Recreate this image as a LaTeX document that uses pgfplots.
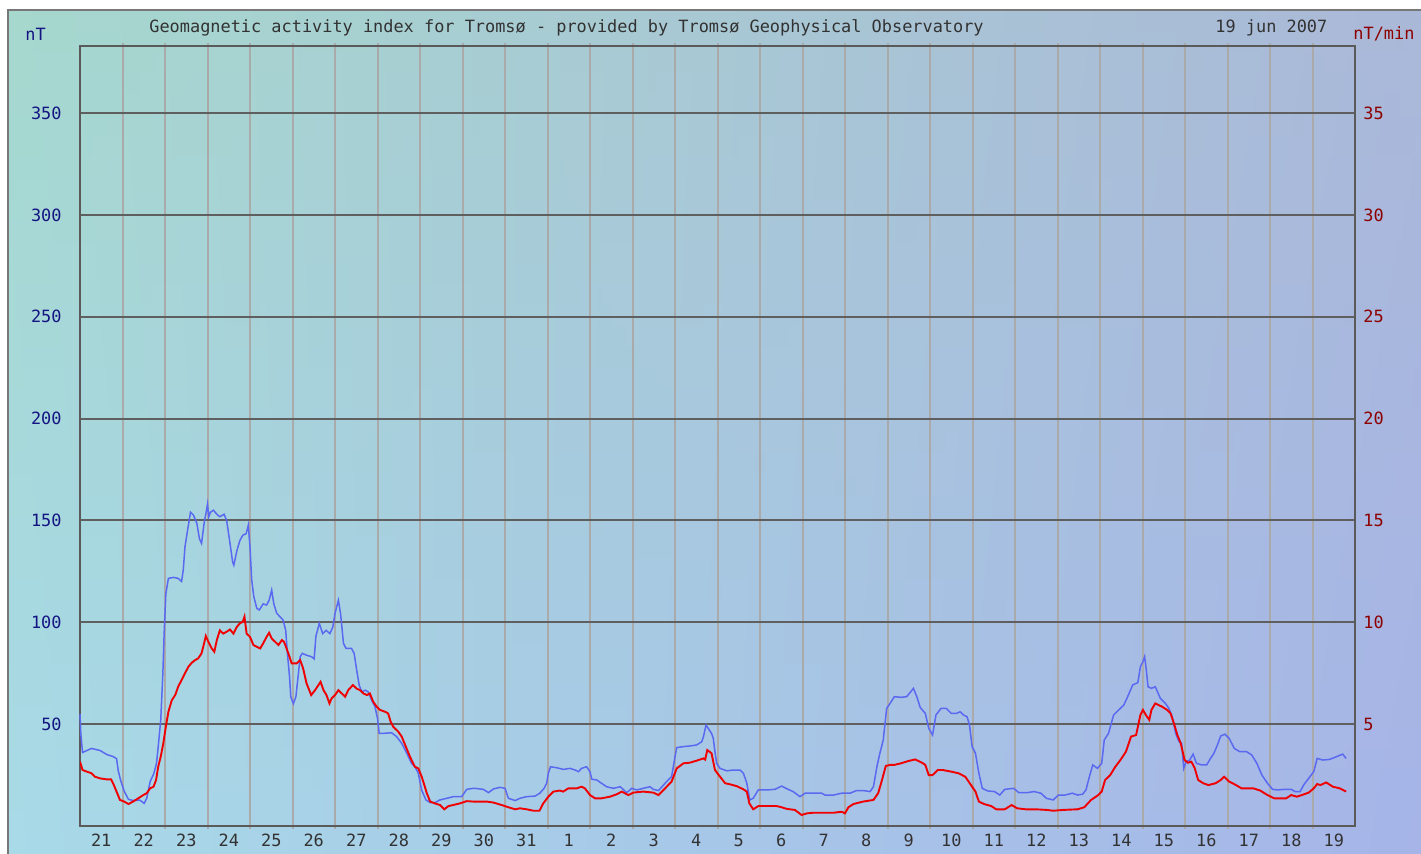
\documentclass[border=0pt]{standalone}
\usepackage{fontspec}
\setmainfont{DejaVu Sans Mono}
\usepackage{pgfplots}
\pgfplotsset{compat=1.18}
\usepackage{pgfplotstable}

\definecolor{bgTL}{RGB}{166,216,206}
\definecolor{bgBL}{RGB}{168,218,232}
\definecolor{bgTR}{RGB}{170,184,216}
\definecolor{bgBR}{RGB}{166,180,232}
\definecolor{hgrid}{RGB}{95,95,95}
\definecolor{vgrid}{RGB}{170,170,170}
\definecolor{axgray}{RGB}{90,90,90}
\definecolor{nTblue}{RGB}{20,20,130}
\definecolor{nTred}{RGB}{140,0,0}
\definecolor{txtgray}{RGB}{50,50,50}
\definecolor{lineblue}{RGB}{90,105,240}
\definecolor{linered}{RGB}{240,0,0}
\definecolor{framegray}{RGB}{120,120,120}

\newcommand\lblfont{\fontsize{8.45}{10}\selectfont}

% blue: geomagnetic activity index, nT (x = days since 21 May 00 UT)
\pgfplotstableread{
t v
0.00 55
0.02 45
0.06 36
0.27 38
0.47 37
0.63 35
0.78 34
0.86 33
0.90 27
0.96 22
1.04 17
1.14 13
1.25 12.4
1.41 12.6
1.51 11
1.57 13.5
1.65 21.7
1.74 25.8
1.80 30.7
1.84 38.8
1.90 52
1.95 75
1.98 94.5
2.02 114
2.08 121.5
2.20 122
2.31 121.5
2.39 120
2.43 125.6
2.47 137
2.53 145
2.60 154
2.67 152.6
2.75 148.5
2.81 141
2.86 138.7
2.92 148.5
2.96 153
3.00 158
3.03 151.8
3.07 154
3.14 155
3.22 153
3.29 151.8
3.39 153
3.45 150
3.53 138.7
3.59 129.7
3.62 128
3.69 135
3.76 140
3.83 142.7
3.91 143.5
3.96 147.6
4.00 137
4.04 120.7
4.09 112.5
4.16 106.8
4.22 106
4.31 109
4.39 108.4
4.45 110.8
4.51 115.8
4.56 109
4.63 104.3
4.71 102.6
4.78 101
4.84 96
4.88 84.7
4.93 73.2
4.96 63.4
5.02 60
5.08 63.4
5.14 75
5.18 83
5.23 84.7
5.33 83.8
5.45 83
5.51 82
5.55 93
5.63 99.4
5.71 94.4
5.79 96
5.88 94.4
5.95 97.7
6.00 104.3
6.08 110.8
6.13 104.3
6.20 89.6
6.26 87.1
6.39 87.1
6.45 84.7
6.51 76.5
6.57 69
6.63 65.8
6.71 66.6
6.78 65.8
6.86 61.8
6.94 58.5
7.00 52.8
7.04 45.4
7.14 45.4
7.33 45.7
7.45 43.8
7.57 40.5
7.69 35.6
7.80 30.7
7.88 29
7.96 25.8
8.04 17.5
8.14 12.7
8.24 11.4
8.35 11.4
8.47 12.7
8.63 13.5
8.78 14.3
8.98 14.3
9.10 17.9
9.25 18.4
9.29 18.4
9.49 17.9
9.61 16.3
9.73 18.1
9.88 18.9
10.00 18.4
10.08 13.5
10.24 12.4
10.35 13.5
10.51 14.3
10.71 14.6
10.82 16
10.92 18.4
10.98 20.9
11.02 25.8
11.07 29
11.22 28.5
11.37 27.7
11.53 28.2
11.65 27.4
11.73 26.6
11.80 28.2
11.92 29
12.00 26.6
12.04 22.9
12.16 22.5
12.27 20.9
12.39 19.2
12.55 18.4
12.71 19.2
12.78 17.9
12.86 16.3
12.94 17.6
12.98 18.4
13.10 17.6
13.25 18.4
13.41 19.2
13.49 17.9
13.61 17.3
13.73 20
13.80 21.7
13.92 24.1
14.00 33.9
14.04 38.4
14.20 38.9
14.35 39.2
14.51 39.7
14.63 41.3
14.67 43.8
14.73 49.5
14.78 47.9
14.86 45.4
14.90 43
14.94 36.4
14.98 30.7
15.06 28.2
15.22 27
15.37 27.4
15.53 27.4
15.61 25.8
15.69 20.9
15.76 12.7
15.84 13.5
15.96 17.6
16.16 17.6
16.35 17.9
16.51 19.5
16.63 18.2
16.78 16.8
16.94 14.3
17.06 16
17.25 16
17.45 16
17.53 15.1
17.73 15.1
17.92 16
18.12 16
18.27 17.3
18.43 17.3
18.59 16.8
18.67 19.2
18.75 29
18.82 35.6
18.90 42.1
18.98 57.7
19.06 60.1
19.16 63.4
19.32 63.1
19.45 63.4
19.53 65.4
19.61 67.5
19.69 63.4
19.77 58.1
19.89 55.2
19.97 47.9
20.06 44.6
20.14 54.4
20.26 57.7
20.38 57.7
20.50 55.2
20.62 55.2
20.71 56
20.79 54.4
20.87 53.6
20.93 49.5
20.99 38.9
21.07 35.6
21.15 25.8
21.23 18.4
21.36 17.1
21.52 16.8
21.64 15.1
21.76 17.9
21.97 18.4
22.09 16.3
22.29 16.3
22.45 16.8
22.61 16
22.74 13.5
22.90 12.7
23.02 15.1
23.18 15.1
23.35 16
23.47 15.1
23.59 15.5
23.67 17.6
23.75 24.1
23.83 29.9
23.94 28.2
24.04 30.7
24.10 42.1
24.20 45.4
24.32 54.4
24.44 56.9
24.56 59.3
24.65 63.4
24.77 69.2
24.89 70.3
24.95 78.1
25.01 80.6
25.05 83.1
25.09 76.5
25.13 68.3
25.21 67.5
25.30 68.3
25.42 62.6
25.54 60.1
25.62 57.7
25.70 53.6
25.78 45.4
25.86 41.3
25.92 40.5
25.97 28.2
26.03 31.5
26.11 32.3
26.19 35.2
26.27 30.7
26.39 29.9
26.51 29.9
26.60 33.1
26.68 35.6
26.76 39.5
26.84 44.1
26.94 45
27.04 42.9
27.16 38
27.29 36.4
27.45 36.4
27.57 34.8
27.69 30.7
27.81 24.9
27.94 20.9
28.06 17.9
28.18 17.6
28.34 17.9
28.50 17.9
28.59 16.8
28.71 16.8
28.79 20
28.91 23.3
29.03 26.6
29.11 33.1
29.24 32.3
29.40 32.6
29.56 33.9
29.71 35.2
29.79 33.1
}\bluedata

% red: rate of change, nT/min
\pgfplotstableread{
t v
0.00 3.15
0.06 2.74
0.16 2.66
0.27 2.58
0.35 2.41
0.47 2.33
0.63 2.28
0.73 2.28
0.78 2.08
0.86 1.68
0.94 1.27
1.04 1.19
1.14 1.07
1.25 1.19
1.37 1.35
1.49 1.51
1.57 1.60
1.65 1.84
1.73 1.92
1.79 2.25
1.84 2.90
1.90 3.40
1.96 4.05
2.02 4.87
2.08 5.60
2.16 6.17
2.24 6.42
2.31 6.83
2.39 7.16
2.47 7.49
2.55 7.81
2.63 8.01
2.71 8.14
2.78 8.22
2.86 8.47
2.92 8.96
2.96 9.32
3.02 9.04
3.10 8.71
3.16 8.55
3.22 9.12
3.29 9.60
3.37 9.44
3.45 9.53
3.53 9.64
3.61 9.44
3.69 9.77
3.76 9.94
3.83 10.02
3.87 10.27
3.92 9.44
4.00 9.28
4.08 8.88
4.16 8.79
4.24 8.71
4.31 8.96
4.39 9.28
4.45 9.48
4.51 9.20
4.59 9.04
4.67 8.88
4.75 9.12
4.80 9.04
4.86 8.71
4.93 8.30
4.98 7.98
5.10 7.98
5.18 8.14
5.25 7.73
5.33 7.00
5.44 6.42
5.53 6.66
5.61 6.91
5.66 7.07
5.73 6.66
5.80 6.42
5.87 6.01
5.92 6.26
6.00 6.42
6.08 6.66
6.16 6.50
6.24 6.34
6.31 6.66
6.42 6.91
6.51 6.74
6.59 6.66
6.67 6.50
6.75 6.42
6.82 6.50
6.90 6.09
6.98 5.85
7.06 5.69
7.18 5.60
7.25 5.52
7.31 5.11
7.37 4.87
7.49 4.62
7.57 4.38
7.65 3.97
7.73 3.56
7.80 3.23
7.88 2.90
7.96 2.82
8.04 2.41
8.09 2.08
8.16 1.60
8.24 1.19
8.35 1.10
8.47 1.02
8.57 0.81
8.67 0.97
8.78 1.02
8.94 1.10
9.10 1.21
9.25 1.19
9.57 1.19
9.73 1.14
9.92 1.02
10.08 0.91
10.24 0.81
10.35 0.86
10.51 0.81
10.67 0.74
10.81 0.74
10.90 1.10
11.02 1.43
11.14 1.68
11.29 1.73
11.37 1.68
11.49 1.84
11.69 1.84
11.80 1.92
11.88 1.84
12.00 1.51
12.12 1.35
12.27 1.35
12.47 1.43
12.63 1.55
12.75 1.68
12.90 1.51
13.02 1.63
13.25 1.68
13.49 1.63
13.61 1.51
13.73 1.76
13.92 2.17
14.04 2.82
14.20 3.07
14.35 3.10
14.51 3.20
14.67 3.31
14.71 3.25
14.76 3.72
14.86 3.56
14.94 2.74
15.06 2.41
15.18 2.09
15.29 2.04
15.45 1.95
15.61 1.79
15.69 1.68
15.75 1.10
15.84 0.81
15.96 0.97
16.16 0.97
16.39 0.97
16.51 0.91
16.63 0.83
16.82 0.78
16.98 0.53
17.10 0.61
17.25 0.64
17.49 0.64
17.73 0.64
17.92 0.69
18.00 0.61
18.08 0.91
18.20 1.07
18.43 1.19
18.67 1.27
18.78 1.60
18.86 2.17
18.96 2.94
19.06 2.99
19.16 2.99
19.32 3.07
19.49 3.18
19.65 3.26
19.81 3.10
19.89 2.99
19.97 2.49
20.06 2.49
20.18 2.74
20.30 2.74
20.50 2.66
20.67 2.58
20.83 2.41
20.91 2.17
20.99 1.92
21.07 1.68
21.15 1.19
21.27 1.07
21.44 0.97
21.56 0.81
21.76 0.81
21.92 1.02
22.05 0.86
22.25 0.81
22.49 0.81
22.74 0.78
22.90 0.74
23.14 0.78
23.47 0.81
23.63 0.91
23.79 1.27
23.96 1.51
24.04 1.68
24.12 2.25
24.24 2.49
24.36 2.90
24.48 3.23
24.61 3.64
24.73 4.38
24.85 4.46
24.95 5.44
25.01 5.69
25.08 5.44
25.16 5.20
25.21 5.69
25.30 6.01
25.38 5.93
25.46 5.85
25.58 5.69
25.66 5.52
25.74 5.03
25.82 4.46
25.90 4.05
25.99 3.23
26.07 3.10
26.15 3.15
26.23 2.82
26.31 2.25
26.43 2.09
26.55 2.00
26.72 2.09
26.84 2.25
26.92 2.41
27.04 2.17
27.20 2.00
27.33 1.84
27.45 1.84
27.61 1.84
27.77 1.73
27.94 1.51
28.10 1.35
28.38 1.35
28.50 1.51
28.63 1.43
28.75 1.51
28.91 1.63
29.03 1.84
29.11 2.05
29.19 2.00
29.32 2.13
29.48 1.92
29.64 1.84
29.79 1.68
}\reddata

\begin{document}
\begin{tikzpicture}
\useasboundingbox (0,0) rectangle (710.5pt,-427pt);
% panel background (gradient)
\foreach \i in {0,...,39}{
  \pgfmathtruncatemacro\p{round((\i+0.5)*2.5)}
  \pgfmathsetmacro\ya{-5-10.55*\i}
  \pgfmathsetmacro\yb{-5-10.55*(\i+1)-0.4}
  \shade[left color=bgBL!\p!bgTL, right color=bgBR!\p!bgTR] (4pt,\ya pt) rectangle (712pt,\yb pt);
}
\draw[framegray, line width=0.8pt] (4pt,-432pt) -- (4pt,-5pt) -- (715pt,-5pt);

\begin{axis}[
  at={(40pt,-412.9pt)}, anchor=south west,
  scale only axis, width=637.5pt, height=389.9pt,
  xmin=0, xmax=30, ymin=0, ymax=383,
  axis line style={draw=axgray, line width=1pt},
  xtick={0.5,1.5,...,29.5},
  xticklabels={21,22,23,24,25,26,27,28,29,30,31,1,2,3,4,5,6,7,8,9,10,11,12,13,14,15,16,17,18,19},
  minor xtick={1,2,...,29},
  xminorgrids,
  minor x grid style={draw=vgrid, line width=1pt},
  ytick={50,100,...,350},
  ymajorgrids,
  major y grid style={draw=hgrid, line width=1pt},
  major tick length=0pt,
  minor tick length=1.6pt,
  tick align=outside,
  minor tick style={draw=vgrid, line width=1pt},
  ytick pos=left,
  /pgf/number format/assume math mode=true,
  tick label style={font=\lblfont},
  yticklabel style={text=nTblue, anchor=east, inner sep=0pt, xshift=-9pt},
  xticklabel style={text=txtgray, anchor=north, inner sep=0pt, yshift=-4pt},
  clip=false,
]
\addplot[lineblue, line width=0.75pt] table[x=t, y=v] {\bluedata};
\end{axis}

\begin{axis}[
  at={(40pt,-412.9pt)}, anchor=south west,
  scale only axis, width=637.5pt, height=389.9pt,
  xmin=0, xmax=30, ymin=0, ymax=38.3,
  hide x axis,
  axis y line*=right,
  y axis line style={draw=none},
  ytick={5,10,...,35},
  major tick length=0pt,
  /pgf/number format/assume math mode=true,
  tick label style={font=\lblfont},
  yticklabel style={text=nTred, anchor=west, inner sep=0pt, xshift=4pt},
]
\addplot[linered, line width=0.95pt] table[x=t, y=v] {\reddata};
\end{axis}

\node[anchor=base west, inner sep=0pt, text=nTblue, font=\lblfont] at (12.5pt,-20.5pt) {nT};
\node[anchor=base west, inner sep=0pt, text=txtgray, font=\lblfont] at (74.5pt,-16.5pt) {Geomagnetic activity index for Tromsø - provided by Tromsø Geophysical Observatory};
\node[anchor=base west, inner sep=0pt, text=txtgray, font=\lblfont] at (607.5pt,-16.5pt) {19 jun 2007};
\node[anchor=base west, inner sep=0pt, text=nTred, font=\lblfont] at (676.5pt,-20pt) {nT/min};
\end{tikzpicture}
\end{document}
